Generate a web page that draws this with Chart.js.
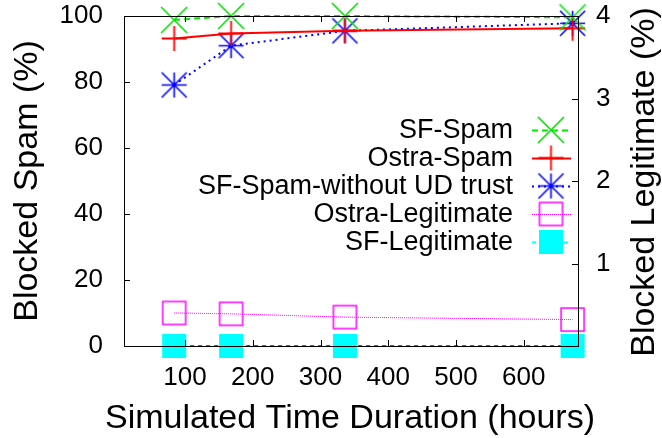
<!DOCTYPE html>
<html>
<head>
<meta charset="utf-8">
<script src="https://cdn.jsdelivr.net/npm/chart.js@4.4.0/dist/chart.umd.min.js"></script>
<style>
  html, body { margin: 0; padding: 0; background: #fff; }
  #wrap { width: 662px; height: 438px; position: relative; }
</style>
</head>
<body>
<div id="wrap"><canvas id="chart"></canvas></div>
<script>
// Data
const hours = [84, 168, 336, 672];
const sfSpam = [98.8, 100, 100, 99.6];
const ostraSpam = [93.2, 94.7, 95.5, 96.3];
const sfSpamNoUD = [79.1, 91.0, 95.5, 97.8];
const ostraLegit = [0.40, 0.39, 0.35, 0.32];
const sfLegit = [0, 0, 0, 0];

const xTicks = [100, 200, 300, 400, 500, 600];
const leftTicks = [0, 20, 40, 60, 80, 100];
const rightTicks = [1, 2, 3, 4];

const FONT = "'Liberation Sans', Arial, sans-serif";

function pts(ys) {
    return hours.map((h, i) => ({ x: h, y: ys[i] }));
}

// gnuplot-like point symbols drawn on small canvases
function marker(kind, color, size, lw) {
    const s = size + 4;
    const c = document.createElement('canvas');
    c.width = s; c.height = s;
    const g = c.getContext('2d');
    const m = s / 2, h = size / 2;
    g.strokeStyle = color;
    g.fillStyle = color;
    g.lineWidth = lw;
    g.beginPath();
    if (kind === 'x' || kind === '*') {
        g.moveTo(m - h, m - h); g.lineTo(m + h, m + h);
        g.moveTo(m - h, m + h); g.lineTo(m + h, m - h);
    }
    if (kind === '+' || kind === '*') {
        g.moveTo(m - h, m); g.lineTo(m + h, m);
        g.moveTo(m, m - h); g.lineTo(m, m + h);
    }
    if (kind === 'box') g.rect(m - h, m - h, size, size);
    g.stroke();
    if (kind === 'fbox') g.fillRect(m - h, m - h, size, size);
    return c;
}

const datasets = [
    { label: 'SF-Spam', data: pts(sfSpam), yAxisID: 'y', borderColor: '#00e600', borderWidth: 2,
      borderDash: [6, 4], pointStyle: marker('x', '#00e600', 26, 1.6) },
    { label: 'Ostra-Spam', data: pts(ostraSpam), yAxisID: 'y', borderColor: '#ff0000', borderWidth: 2,
      borderDash: [], pointStyle: marker('+', '#ff0000', 25, 1.8) },
    { label: 'SF-Spam-without UD trust', data: pts(sfSpamNoUD), yAxisID: 'y', borderColor: '#0000ff', borderWidth: 2,
      borderDash: [2, 4], pointStyle: marker('*', '#0000ff', 25, 1.6) },
    { label: 'Ostra-Legitimate', data: pts(ostraLegit), yAxisID: 'y2', borderColor: '#ff00ff', borderWidth: 1,
      borderDash: [1, 1], pointStyle: marker('box', '#ff00ff', 23, 1.5) },
    { label: 'SF-Legitimate', data: pts(sfLegit), yAxisID: 'y2', borderColor: '#007f7f', borderWidth: 2,
      borderDash: [4, 4], pointStyle: marker('fbox', '#00ffff', 24, 1) }
];
datasets.forEach(d => {
    d.fill = false;
    d.tension = 0;
    d.clip = false;
    d.pointRadius = 12;
    d.pointHoverRadius = 12;
});
// legend sample line colours
const legendLine = ['#00e600', '#ff0000', '#0000ff', '#ff00ff', '#00ffff'];

// frame, inward ticks, titles, legend
const decorations = {
    id: 'decorations',
    afterDatasetsDraw(chart) {
        const ctx = chart.ctx;
        const a = chart.chartArea;
        const sx = chart.scales.x, sy = chart.scales.y, sy2 = chart.scales.y2;
        ctx.save();
        ctx.strokeStyle = '#000';
        ctx.lineWidth = 1;
        ctx.beginPath();
        xTicks.forEach(v => {
            const px = Math.round(sx.getPixelForValue(v)) + 0.5;
            ctx.moveTo(px, a.bottom); ctx.lineTo(px, a.bottom - 6);
            ctx.moveTo(px, a.top); ctx.lineTo(px, a.top + 6);
        });
        leftTicks.forEach(v => {
            const py = Math.round(sy.getPixelForValue(v)) + 0.5;
            ctx.moveTo(a.left, py); ctx.lineTo(a.left + 6, py);
        });
        [0].concat(rightTicks).forEach(v => {
            const py = Math.round(sy2.getPixelForValue(v)) + 0.5;
            ctx.moveTo(a.right, py); ctx.lineTo(a.right - 6, py);
        });
        ctx.stroke();
        ctx.strokeRect(Math.round(a.left) + 0.5, Math.round(a.top) + 0.5,
            Math.round(a.right - a.left), Math.round(a.bottom - a.top));

        // axis titles
        ctx.fillStyle = '#000';
        ctx.font = '34px ' + FONT;
        ctx.textAlign = 'center';
        ctx.textBaseline = 'alphabetic';
        ctx.fillText('Simulated Time Duration (hours)', 350, 428);
        ctx.save();
        ctx.translate(37, 181);
        ctx.rotate(-Math.PI / 2);
        ctx.fillText('Blocked Spam (%)', 0, 0);
        ctx.restore();
        ctx.save();
        ctx.translate(654, 182);
        ctx.rotate(-Math.PI / 2);
        ctx.fillText('Blocked Legitimate (%)', 0, 0);
        ctx.restore();

        // legend
        ctx.font = '27px ' + FONT;
        ctx.textAlign = 'right';
        ctx.textBaseline = 'middle';
        chart.data.datasets.forEach((d, i) => {
            const y = 130 + i * 28;
            ctx.fillStyle = '#000';
            ctx.fillText(d.label, 513, y + 1);
            ctx.save();
            ctx.strokeStyle = legendLine[i];
            ctx.lineWidth = d.borderWidth;
            ctx.setLineDash(d.borderDash);
            ctx.beginPath();
            ctx.moveTo(532, y + 0.5); ctx.lineTo(571, y + 0.5);
            ctx.stroke();
            ctx.restore();
            Chart.helpers.drawPoint(ctx, { pointStyle: d.pointStyle, radius: 12, rotation: 0 }, 551, y);
        });
        ctx.restore();
    }
};

// keep the plot box where the reference has it
function pinVertical(width) {
    return s => {
        s.width = width;
        s.paddingTop = 0;
        s.paddingBottom = 0;
    };
}

new Chart(document.getElementById('chart'), {
    type: 'line',
    data: { datasets },
    options: {
        responsive: true,
        maintainAspectRatio: false,
        animation: false,
        layout: { padding: { top: 16, left: 0, right: 0, bottom: 0 } },
        plugins: { legend: { display: false }, tooltip: { enabled: false } },
        scales: {
            x: {
                type: 'linear', min: 10, max: 680,
                grid: { display: false, drawTicks: false },
                border: { display: false },
                afterBuildTicks: s => { s.ticks = xTicks.map(v => ({ value: v })); },
                afterFit: s => { s.height = 92; s.paddingLeft = 0; s.paddingRight = 0; },
                ticks: { color: '#000', padding: 16, maxRotation: 0, font: { family: FONT, size: 26 } }
            },
            y: {
                position: 'left', min: 0, max: 100,
                grid: { display: false, drawTicks: false },
                border: { display: false },
                afterBuildTicks: s => { s.ticks = leftTicks.map(v => ({ value: v })); },
                afterFit: pinVertical(124),
                ticks: { color: '#000', padding: 21, font: { family: FONT, size: 26 } }
            },
            y2: {
                position: 'right', min: 0, max: 4,
                grid: { display: false, drawTicks: false },
                border: { display: false },
                afterBuildTicks: s => { s.ticks = rightTicks.map(v => ({ value: v })); },
                afterFit: pinVertical(84),
                ticks: { color: '#000', padding: 18, font: { family: FONT, size: 26 } }
            }
        }
    },
    plugins: [decorations]
});
</script>
</body>
</html>
